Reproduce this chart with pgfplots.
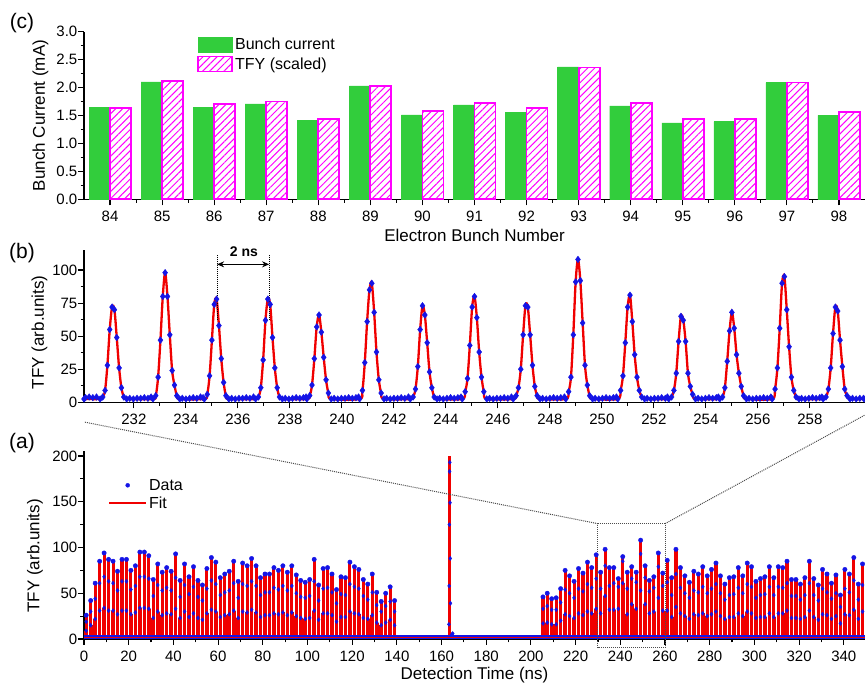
\documentclass[border=0pt]{standalone}
\usepackage{fontspec}
\setmainfont{Liberation Sans}
\usepackage{pgfplots}
\pgfplotsset{compat=1.18}
\usepackage{pgfplotstable}
\usetikzlibrary{patterns,patterns.meta,arrows.meta}

\definecolor{bgreen}{RGB}{50,205,60}
\definecolor{dblue}{RGB}{20,20,230}
\definecolor{fred}{RGB}{240,0,0}
\definecolor{mag}{RGB}{255,0,255}

\pgfplotstableread{
n g t
84 1.64 1.64
85 2.10 2.12
86 1.65 1.71
87 1.71 1.75
88 1.41 1.44
89 2.03 2.03
90 1.51 1.58
91 1.69 1.73
92 1.55 1.63
93 2.37 2.36
94 1.67 1.72
95 1.37 1.44
96 1.39 1.44
97 2.09 2.09
98 1.50 1.56
}\bunch

\pgfplotstableread{
x p a b
1 26 19 9
3 42 30 15
5 61 44 22
7 85 61 31
9 94 68 34
11 87 63 31
13 85 61 31
15 74 53 27
17 87 63 31
19 87 63 31
21 75 54 27
23 80 58 29
25 95 68 34
27 95 68 34
29 91 66 33
31 65 47 23
33 82 59 30
35 73 53 26
37 78 56 28
39 74 53 27
41 93 67 33
43 64 46 23
45 82 59 30
47 68 49 24
49 79 57 28
51 64 46 23
53 59 42 21
55 77 55 28
57 89 64 32
59 84 60 30
61 67 48 24
63 71 51 26
65 74 53 27
67 85 61 31
69 63 45 23
71 83 60 30
73 80 58 29
75 88 63 32
77 80 58 29
79 67 48 24
81 71 51 26
83 71 51 26
85 78 56 28
87 75 54 27
89 80 58 29
91 73 53 26
93 80 58 29
95 70 50 25
97 64 46 23
99 62 45 22
101 65 47 23
103 87 63 31
105 59 42 21
107 77 55 28
109 78 56 28
111 71 51 26
113 54 39 19
115 68 49 24
117 67 48 24
119 84 60 30
121 79 57 28
123 76 55 27
125 65 47 23
127 60 43 22
129 71 51 26
131 51 37 18
133 41 30 15
135 50 36 18
137 57 41 21
139 42 30 15
205.4 46 33 17
207.3 50 36 18
209.3 44 32 16
211.3 45 32 16
213.3 55 40 20
215.3 75 54 27
217.3 69 50 25
219.3 63 45 23
221.3 77 55 28
223.3 72 52 26
225.3 84 60 30
227.2 78 56 28
229.2 92 66 33
231.2 73 55 28
233.2 98 80 47
235.1 78 58 32
237.1 78 61 32
239.1 66 57 33
241.1 90 85 61
243.1 73 55 27
245.1 79 66 38
247.1 73 62 33
249.1 108 93 53
251.1 80 67 38
253.0 64 52 28
255.0 68 56 30
257.0 94 79 45
259.0 72 58 31
261.0 86 62 31
263.0 67 48 24
264.9 98 71 35
266.9 78 56 28
268.9 69 50 25
270.9 62 45 22
272.9 74 53 27
274.9 71 51 26
276.9 79 57 28
278.9 69 50 25
280.8 76 55 27
282.8 83 60 30
284.8 69 50 25
286.8 60 43 22
288.8 67 48 24
290.8 68 49 24
292.8 78 56 28
294.8 69 50 25
296.8 83 60 30
298.7 79 57 28
300.7 63 45 23
302.7 66 48 24
304.7 68 49 24
306.7 79 57 28
308.7 67 48 24
310.7 79 57 28
312.7 78 56 28
314.6 85 61 31
316.6 65 47 23
318.6 65 47 23
320.6 60 43 22
322.6 67 48 24
324.6 85 61 31
326.6 66 48 24
328.6 59 42 21
330.5 76 55 27
332.5 71 51 26
334.5 61 44 22
336.5 70 50 25
338.5 48 35 17
340.5 76 55 27
342.5 71 51 26
344.5 89 64 32
346.5 60 43 22
348.4 82 59 30
}\peaksA

\pgfplotstableread{
x y
230.08 2.5
230.70 2.5
230.80 4
230.89 9
230.98 28
231.07 55
231.16 72
231.25 70
231.34 49
231.43 26
231.52 11
231.61 4
231.72 2.5
232.73 2.5
232.84 5
232.93 19
233.02 47
233.11 80
233.20 98
233.29 80
233.38 51
233.47 24
233.56 13
233.65 5
233.76 2.5
234.71 2.5
234.82 6
234.91 20
235.00 47
235.09 74
235.18 78
235.27 58
235.36 33
235.45 15
235.54 5
235.65 2.5
236.68 2.5
236.79 4
236.88 11
236.97 32
237.06 62
237.15 78
237.24 74
237.33 49
237.42 26
237.51 11
237.60 4
237.71 2.5
238.65 2.5
238.76 5
238.85 13
238.94 33
239.03 57
239.12 66
239.21 53
239.30 34
239.39 17
239.48 7
239.59 2.5
240.68 2.5
240.79 9
240.88 30
240.97 61
241.06 85
241.15 90
241.24 68
241.33 38
241.42 17
241.51 7
241.62 2.5
242.63 2.5
242.74 4
242.83 10
242.92 27
243.01 55
243.10 73
243.19 66
243.28 45
243.37 23
243.46 11
243.55 4
243.66 2.5
244.63 2.5
244.74 8
244.83 18
244.92 43
245.01 72
245.10 80
245.19 64
245.28 38
245.37 19
245.46 8
245.57 2.5
246.59 2.5
246.70 5
246.79 11
246.88 25
246.97 51
247.06 73
247.15 72
247.24 51
247.33 28
247.42 12
247.51 5
247.62 2.5
248.61 2.5
248.72 8
248.81 19
248.90 51
248.99 91
249.08 108
249.17 92
249.26 60
249.35 28
249.44 13
249.53 5
249.64 2.5
250.61 2.5
250.72 9
250.81 20
250.90 45
250.99 72
251.08 81
251.17 61
251.26 36
251.35 19
251.44 9
251.53 4
251.64 2.5
252.57 2.5
252.68 4
252.77 9
252.86 22
252.95 46
253.04 65
253.13 62
253.22 46
253.31 22
253.40 12
253.49 6
253.60 2.5
254.53 2.5
254.64 4
254.73 11
254.82 31
254.91 54
255.00 68
255.09 56
255.18 36
255.27 22
255.36 12
255.45 5
255.56 2.5
256.55 2.5
256.66 10
256.75 26
256.84 56
256.93 90
257.02 95
257.11 70
257.20 42
257.29 19
257.38 9
257.47 4
257.58 2.5
258.51 2.5
258.62 4
258.71 10
258.80 26
258.89 52
258.98 72
259.07 69
259.16 47
259.25 27
259.34 10
259.43 5
259.54 2.5
260.12 2.5
}\peakB

\pgfplotstableread{
x y
230.14 3.5
230.28 4
230.42 3.5
230.56 4
231.84 3
231.98 2.5
232.12 3
232.26 3
232.40 3.5
232.54 3
232.66 4
233.86 3
234.00 2.5
234.14 3
234.28 3.5
234.42 3
234.56 4
234.66 3.5
235.76 3
235.90 2.5
236.04 3
236.18 3
236.32 3.5
236.46 3
236.60 4
237.82 3
237.96 2.5
238.10 3
238.24 3.5
238.38 3
238.52 3.5
238.62 4
239.70 3
239.84 2.5
239.98 3
240.12 3
240.26 3.5
240.40 3
240.54 3.5
240.64 4
241.72 3
241.86 2.5
242.00 3
242.14 3
242.28 3.5
242.42 3
242.56 4
243.76 3
243.90 2.5
244.04 3
244.18 3.5
244.32 3
244.46 3.5
244.58 4
245.68 3
245.82 2.5
245.96 3
246.10 3
246.24 3.5
246.38 3
246.52 4
247.72 3
247.86 2.5
248.00 3
248.14 3.5
248.28 3
248.42 3.5
248.56 4
249.74 3
249.88 2.5
250.02 3
250.16 3.5
250.30 3
250.44 3.5
250.56 4
251.74 3
251.88 2.5
252.02 3
252.16 3
252.30 3.5
252.44 3
252.52 4
253.70 3
253.84 2.5
253.98 3
254.12 3.5
254.26 3
254.40 3.5
254.48 4
255.66 3
255.80 2.5
255.94 3
256.08 3
256.22 3.5
256.36 3
256.50 4
257.68 3
257.82 2.5
257.96 3
258.10 3.5
258.24 3
258.38 3.5
258.46 4
259.64 3
259.78 2.5
259.92 3
260.06 3
}\baseB

\pgfplotsset{
  barleg/.style={legend image code/.code={\draw[##1] (0pt,-7.5pt) rectangle (34pt,7.5pt);}},
  aleg/.style={legend image code/.code={\draw[mark repeat=2,mark phase=2,##1] plot coordinates {(0pt,0pt) (18.5pt,0pt) (37pt,0pt)};}},
  common/.style={
    scale only axis, width=781pt,
    axis x line*=bottom, axis y line*=left,
    axis line style={-, line width=1.2pt},
    tick align=outside,
    major tick length=6pt, minor tick length=3.5pt,
    every tick/.style={black, line width=1.1pt},
    tick label style={font=\fontsize{15}{18}\selectfont},
    label style={font=\fontsize{17}{20}\selectfont},
    /pgf/number format/assume math mode=true,
    xticklabel style={anchor=base, inner sep=0pt, yshift=-16.5pt},
    yticklabel style={anchor=east, inner sep=0pt, xshift=-0.5pt},
    clip=false,
  }
}

\begin{document}
\begin{tikzpicture}
% ---------------- (c) ----------------
\begin{axis}[common, at={(84pt,484.7pt)}, anchor=south west, height=167.6pt,
  xmin=83.5, xmax=98.5, ymin=0, ymax=3,
  xtick={84,...,98}, minor x tick num=1,
  ytick={0,0.5,...,3}, minor y tick num=1,
  yticklabel style={/pgf/number format/.cd, fixed, fixed zerofill, precision=1},
  ybar=0pt, bar width=21pt,
  xlabel={Electron Bunch Number},
  xlabel style={at={(axis description cs:0.5,0)}, anchor=base, yshift=-42pt},
  ylabel={Bunch Current (mA)},
  ylabel style={at={(axis description cs:-0.0557,0.5)}, anchor=center},
  legend style={at={(axis description cs:0.141,0.985)}, anchor=north west,
    draw=none, fill=none, font=\fontsize{16}{19}\selectfont, row sep=2pt,
    cells={anchor=west}},
]
\addplot[fill=bgreen, draw=bgreen, line width=0.4pt, barleg]
  table[x=n,y=g]{\bunch};
\addlegendentry{Bunch current}
\addplot[draw=mag, line width=1.8pt,
  pattern={Lines[angle=45,distance=5pt,line width=1pt]}, pattern color=mag, barleg]
  table[x=n,y=t]{\bunch};
\addlegendentry{TFY (scaled)}
\end{axis}

% ---------------- (b) ----------------
\begin{axis}[common, at={(84pt,281.7pt)}, anchor=south west, height=152.1pt,
  xmin=230.08, xmax=260.12, ymin=0, ymax=115,
  xtick={232,234,...,258}, minor x tick num=1,
  ytick={0,25,...,100}, minor y tick num=1,
  ylabel={TFY (arb.units)},
  ylabel style={at={(axis description cs:-0.057,0.46)}, anchor=center},
]
\addplot[only marks, mark=diamond*, mark size=3.3pt, dblue] table {\baseB};
\addplot[only marks, mark=diamond*, mark size=3.3pt, dblue] table {\peakB};
\addplot[fred, line width=2.3pt, smooth, tension=0.5] table {\peakB};
\draw[densely dotted, line width=1pt] (axis cs:235.2,62) -- (axis cs:235.2,111.5);
\draw[densely dotted, line width=1pt] (axis cs:237.2,62) -- (axis cs:237.2,111.5);
\draw[{Stealth[length=7pt,width=6pt]}-{Stealth[length=7pt,width=6pt]}, line width=1.2pt]
  (axis cs:235.2,104.3) -- (axis cs:237.2,104.3);
\node[font=\bfseries\fontsize{14}{16}\selectfont] at (axis cs:236.23,113.5) {2 ns};
\coordinate (bSW) at (rel axis cs:0,0);
\coordinate (bSE) at (rel axis cs:1,0);
\end{axis}

% ---------------- (a) ----------------
\begin{axis}[common, at={(84pt,45pt)}, anchor=south west, height=187.6pt,
  xmin=0, xmax=349.5, ymin=0, ymax=205,
  xtick={0,20,...,340}, minor x tick num=1,
  ytick={0,50,...,200}, minor y tick num=1,
  xlabel={Detection Time (ns)},
  xlabel style={at={(axis description cs:0.5,0)}, anchor=base, yshift=-41pt},
  ylabel={TFY (arb.units)},
  ylabel style={at={(axis description cs:-0.0627,0.443)}, anchor=center},
  legend style={at={(axis description cs:0.027,0.875)}, anchor=north west,
    draw=none, fill=none, font=\fontsize{16}{19}\selectfont, row sep=1pt,
    cells={anchor=west}},
  aleg,
]
\addplot[fred, ycomb, line width=3.1pt, forget plot] table[x=x,y=p]{\peaksA};
\addplot[fred, ycomb, line width=3.6pt, forget plot] table[x=x,y=b]{\peaksA};
\addplot[fred, ycomb, line width=2.4pt, forget plot] coordinates {(163.5,200)};
\addplot[dblue, line width=3.5pt, forget plot] coordinates {(0,2) (349.5,2)};
\addplot[fred, line width=1pt, forget plot] coordinates {(0,2) (349.5,2)};
\addplot[only marks, mark=diamond*, mark size=2pt, dblue, forget plot] table[x=x,y=b]{\peaksA};
\addplot[only marks, mark=diamond*, mark size=2pt, dblue, forget plot] table[x=x,y=a]{\peaksA};
\addplot[only marks, mark=*, mark size=2.2pt, dblue, forget plot] table[x=x,y=p]{\peaksA};
\addplot[only marks, mark=diamond*, mark size=2pt, dblue, forget plot] coordinates {
  (163.3,16) (163.4,58) (163.5,125) (163.6,183) (163.7,193) (163.8,149)
  (163.9,88) (164.0,39) (164.6,5) (165.0,6)};
\addlegendimage{only marks, mark=*, mark size=2pt, dblue}
\addlegendentry{Data}
\addlegendimage{no markers, fred, line width=1.8pt}
\addlegendentry{Fit}
\draw[densely dotted, line width=1pt, black!70] (axis cs:230,-9.5) rectangle (axis cs:260,126);
\coordinate (aTL) at (axis cs:230,126);
\coordinate (aTR) at (axis cs:260,126);
\end{axis}

\draw[densely dotted, line width=1pt, black!70] (aTL) -- ([yshift=-19.7pt]bSW);
\draw[densely dotted, line width=1pt, black!70] (aTR) -- ([yshift=-12.7pt]bSE);

\node[font=\fontsize{21}{24}\selectfont] at (22pt,661pt) {(c)};
\node[font=\fontsize{21}{24}\selectfont] at (22pt,431pt) {(b)};
\node[font=\fontsize{21}{24}\selectfont] at (22pt,241pt) {(a)};

\pgfresetboundingbox
\path[use as bounding box] (0,0) rectangle (865pt,684pt);
\end{tikzpicture}
\end{document}
